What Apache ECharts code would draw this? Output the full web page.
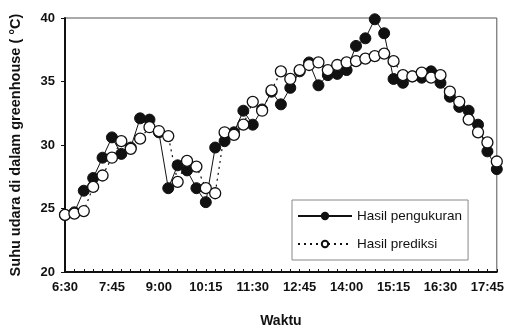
<!DOCTYPE html>
<html>
<head>
<meta charset="utf-8">
<script src="https://cdn.jsdelivr.net/npm/echarts@6/dist/echarts.min.js"></script>
<style>
html,body{margin:0;padding:0;background:#fff;}
#chart{width:507px;height:333px;}
</style>
</head>
<body>
<div id="chart"></div>
<script>
var categories = ['6:30','6:45','7:00','7:15','7:30','7:45','8:00','8:15','8:30','8:45',
  '9:00','9:15','9:30','9:45','10:00','10:15','10:30','10:45','11:00','11:15',
  '11:30','11:45','12:00','12:15','12:30','12:45','13:00','13:15','13:30','13:45',
  '14:00','14:15','14:30','14:45','15:00','15:15','15:30','15:45','16:00','16:15',
  '16:30','16:45','17:00','17:15','17:30','17:45','18:00'];

var measured = [24.5,24.7,26.4,27.4,29.0,30.6,29.3,29.8,32.1,32.0,
  31.0,26.6,28.4,28.0,26.6,25.5,29.8,30.3,31.0,32.7,
  31.6,32.8,34.2,33.2,34.5,35.8,36.5,34.7,35.5,35.6,
  35.9,37.8,38.4,39.9,38.8,35.2,34.9,35.4,35.3,35.8,
  34.9,33.8,33.0,32.7,31.6,29.5,28.1];

var predicted = [24.5,24.6,24.8,26.7,27.6,29.0,30.3,29.7,30.5,31.4,
  31.1,30.7,27.1,28.75,28.3,26.6,26.2,31.0,30.8,31.6,
  33.4,32.7,34.3,35.8,35.2,35.9,36.3,36.5,35.9,36.3,
  36.5,36.6,36.8,37.0,37.2,36.6,35.5,35.4,35.7,35.3,
  35.5,34.2,33.4,32.0,31.0,30.2,28.7];

var yTicks = [20,25,30,35,40];

var chart = echarts.init(document.getElementById('chart'), null, {renderer:'canvas'});
var font = 'Liberation Sans, Arial, sans-serif';
chart.setOption({
  animation:false,
  backgroundColor:'#fff',
  grid:{left:63,right:7,top:18,bottom:59,show:true,borderColor:'#555',borderWidth:1},
  legend:{
    orient:'vertical', left:292, top:200,
    itemWidth:54, itemHeight:8, itemGap:14,
    padding:[9,6,9,5],
    borderColor:'#888', borderWidth:1, backgroundColor:'#fff',
    textStyle:{fontFamily:font,fontSize:13.5,color:'#111'},
    data:['Hasil pengukuran','Hasil prediksi']
  },
  xAxis:{
    type:'category', data:categories, boundaryGap:false,
    name:'Waktu', nameLocation:'middle', nameGap:42,
    nameTextStyle:{fontFamily:font,fontSize:14,fontWeight:'bold',color:'#111'},
    axisLine:{lineStyle:{color:'#111',width:2}},
    axisTick:{show:true,inside:true,interval:0,length:3,lineStyle:{color:'#111'}},
    axisLabel:{interval:4,fontFamily:font,fontSize:13,fontWeight:'bold',color:'#111',margin:9},
    splitLine:{show:false}
  },
  yAxis:{
    type:'value', min:yTicks[0], max:yTicks[yTicks.length-1], interval:5,
    name:'Suhu udara di dalam greenhouse ( °C)', nameLocation:'middle', nameGap:42,
    nameTextStyle:{fontFamily:font,fontSize:14.5,fontWeight:'bold',color:'#111'},
    axisLine:{show:true,lineStyle:{color:'#111',width:2}},
    axisTick:{show:true,length:4,lineStyle:{color:'#111'}},
    axisLabel:{fontFamily:font,fontSize:13,fontWeight:'bold',color:'#111',margin:10},
    splitLine:{show:false}
  },
  series:[
    {
      name:'Hasil pengukuran', type:'line', data:measured,
      symbol:'circle', symbolSize:11, showAllSymbol:true,
      lineStyle:{color:'#111',width:1},
      itemStyle:{color:'#111',borderColor:'#111',borderWidth:1},
      z:2
    },
    {
      name:'Hasil prediksi', type:'line', data:predicted,
      symbol:'circle', symbolSize:11, showAllSymbol:true,
      lineStyle:{color:'#111',width:1.2,type:[2,4]},
      itemStyle:{color:'#fff',borderColor:'#111',borderWidth:1.3},
      z:3
    }
  ]
});
</script>
</body>
</html>
